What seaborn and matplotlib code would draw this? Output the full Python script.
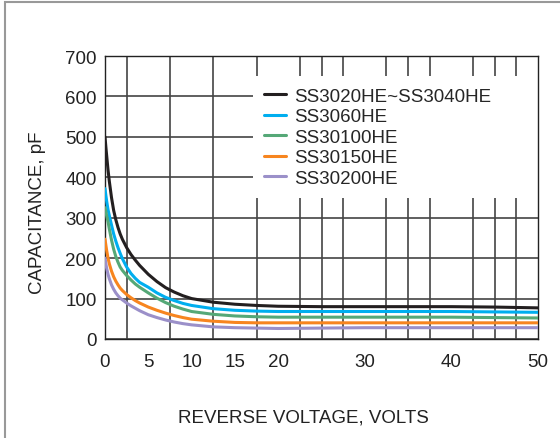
import pandas as pd
import matplotlib.pyplot as plt
import matplotlib.patches as patches
import seaborn as sns

# reverse voltage (V) sample points
volts = [0, 0.1, 0.2, 0.35, 0.5, 0.75, 1, 1.25, 1.5, 1.75, 2, 2.5, 3, 3.5, 4,
         5, 6, 7, 8, 9, 10, 12.5, 15, 17.5, 20, 25, 30, 35, 40, 45, 50]

# capacitance (pF) per series
cap_3020_3040 = [500, 475, 452, 418, 390, 350, 318, 295, 276, 260, 247, 226, 209, 195, 182,
                 160, 142, 127, 116, 107, 100, 91, 86, 83, 81, 80, 80, 80, 80, 79, 77]
cap_3060 = [372, 355, 340, 320, 305, 282, 260, 242, 226, 212, 199, 178, 162, 150, 140,
            128, 114, 103, 95, 88, 83, 75, 71, 69, 68, 68, 68, 68, 68, 67, 66]
cap_30100 = [325, 315, 304, 290, 272, 245, 222, 204, 190, 178, 170, 157, 146, 136, 128,
             114, 101, 90, 81, 74, 68, 61, 57, 55, 54, 54, 54, 54, 54, 53, 52]
cap_30150 = [247, 232, 218, 200, 186, 168, 154, 143, 134, 126, 120, 110, 102, 95, 89,
             79, 71, 64, 58, 53, 49, 44, 41, 40, 40, 40, 40, 40, 40, 40, 40]
cap_30200 = [200, 186, 174, 160, 149, 134, 123, 114, 107, 101, 97, 89, 82, 76, 70,
             60, 53, 47, 42, 38, 35, 30, 28, 27, 26, 27, 28, 28, 28, 28, 28]

series_names = ['SS3020HE~SS3040HE', 'SS3060HE', 'SS30100HE', 'SS30150HE', 'SS30200HE']
series_vals = [cap_3020_3040, cap_3060, cap_30100, cap_30150, cap_30200]
colors = ['#231f20', '#00aeef', '#55a877', '#f7851f', '#9b90c9']

x_ticks = [0, 5, 10, 15, 20, 30, 40, 50]
y_ticks = [0, 100, 200, 300, 400, 500, 600, 700]

rows = []
for name, vals in zip(series_names, series_vals):
    for v, c in zip(volts, vals):
        rows.append({'V': v, 'C': c, 'part': name})
df = pd.DataFrame(rows)

sns.set_theme(style='white')
plt.rcParams['font.family'] = ['Liberation Sans', 'DejaVu Sans']

fig = plt.figure(figsize=(5.6, 4.39), dpi=100)
ax = fig.add_axes([105 / 560, 1 - 340 / 439, 433 / 560, 283 / 439])

sns.lineplot(data=df, x='V', y='C', hue='part', hue_order=series_names,
             palette=dict(zip(series_names, colors)), linewidth=2.2,
             ax=ax, legend=False, zorder=3)

ax.set_xlim(0, 50)
ax.set_ylim(0, 700)
ax.set_xticks(x_ticks)
ax.set_yticks(y_ticks)
ax.set_xticks([i * 2.5 for i in range(21)], minor=True)
ax.tick_params(axis='both', which='both', length=0, labelsize=13.5, colors='#222222')
ax.tick_params(axis='x', pad=10)
ax.tick_params(axis='y', pad=6)
ax.set_axisbelow(True)
ax.grid(True, which='minor', axis='x', color='#444444', linewidth=1.2)
ax.grid(True, which='major', axis='y', color='#444444', linewidth=1.2)
for s in ax.spines.values():
    s.set_visible(True)
    s.set_color('#222222')
    s.set_linewidth(1.0)
ax.set_xlabel('')
ax.set_ylabel('')

# white box behind the legend that hides the grid
ax.add_patch(patches.Rectangle((0.342, 0.498), 0.658, 0.431, transform=ax.transAxes,
                               facecolor='white', edgecolor='none', zorder=1))

handles = [plt.Line2D([], [], color=c, linewidth=2.2) for c in colors]
ax.legend(handles, series_names, loc='upper left', bbox_to_anchor=(0.35, 0.915),
          frameon=False, fontsize=13.5, handlelength=1.15, handletextpad=0.45,
          labelspacing=0.18, borderaxespad=0)

fig.text(303 / 560, 1 - 418 / 439, 'REVERSE VOLTAGE, VOLTS', ha='center', va='center',
         fontsize=13.5, color='#222222')
fig.text(38 / 560, 1 - 213 / 439, 'CAPACITANCE, pF', ha='center', va='center',
         rotation=90, fontsize=13.5, color='#222222')

# grey page frame
fig.patches.append(patches.Rectangle((5 / 560, -0.1), 1.2, 1 - 2.5 / 439 + 0.1,
                                     transform=fig.transFigure, facecolor='none',
                                     edgecolor='#999999', linewidth=1.5))

fig.savefig('out.png', dpi=100)
